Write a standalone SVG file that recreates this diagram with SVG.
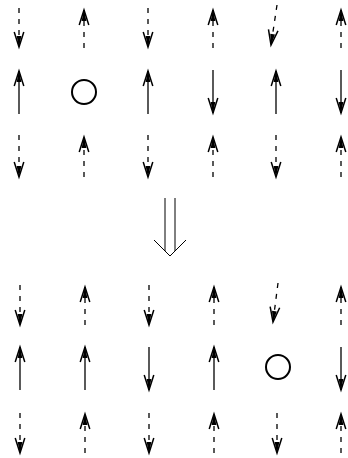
<svg xmlns="http://www.w3.org/2000/svg" width="348" height="458" viewBox="0 0 348 458">
<style>
.s{stroke:#000;stroke-width:1.3;fill:none}
.d{stroke:#000;stroke-width:1.3;fill:none;stroke-dasharray:5 6}
.c{stroke:#000;stroke-width:2;fill:none}
.t{stroke:#000;stroke-width:1;fill:none}
</style>
<defs>
<marker id="h" markerUnits="userSpaceOnUse" markerWidth="30" markerHeight="30" viewBox="-15 -15 30 30" refX="0" refY="0" orient="auto" overflow="visible">
<path d="M-15,-4.8 L0,0 L-15,4.8" stroke="#000" stroke-width="1.5" fill="none"/>
<path d="M-11,-2.4 L0,0 L-11,2.4 Z" fill="#000"/>
</marker>
</defs>
<rect width="348" height="458" fill="#fff"/>
<g id="top-grid">
<g id="top-row1">
<line class="d" x1="19" y1="8" x2="19" y2="47" marker-end="url(#h)"/>
<line class="d" x1="84" y1="48" x2="84" y2="10" marker-end="url(#h)"/>
<line class="d" x1="148" y1="8" x2="148" y2="47" marker-end="url(#h)"/>
<line class="d" x1="213" y1="48" x2="213" y2="10" marker-end="url(#h)"/>
<line class="d" x1="277" y1="5" x2="271" y2="45" marker-end="url(#h)"/>
<line class="d" x1="341" y1="48" x2="341" y2="10" marker-end="url(#h)"/>
</g>
<g id="top-row2">
<line class="s" x1="19" y1="114" x2="19" y2="71" marker-end="url(#h)"/>
<circle class="c" cx="84" cy="92" r="12"/>
<line class="s" x1="148" y1="114" x2="148" y2="71" marker-end="url(#h)"/>
<line class="s" x1="213" y1="70" x2="213" y2="113" marker-end="url(#h)"/>
<line class="s" x1="276" y1="114" x2="276" y2="71" marker-end="url(#h)"/>
<line class="s" x1="341" y1="70" x2="341" y2="113" marker-end="url(#h)"/>
</g>
<g id="top-row3">
<line class="d" x1="19" y1="135" x2="19" y2="177" marker-end="url(#h)"/>
<line class="d" x1="84" y1="177" x2="84" y2="137" marker-end="url(#h)"/>
<line class="d" x1="148" y1="135" x2="148" y2="177" marker-end="url(#h)"/>
<line class="d" x1="213" y1="177" x2="213" y2="137" marker-end="url(#h)"/>
<line class="d" x1="276" y1="135" x2="276" y2="177" marker-end="url(#h)"/>
<line class="d" x1="341" y1="177" x2="341" y2="137" marker-end="url(#h)"/>
</g>
</g>
<g id="transition">
<line class="t" x1="165" y1="198" x2="165" y2="251"/>
<line class="t" x1="175" y1="198" x2="175" y2="251"/>
<path class="t" d="M154,240 L170,256 L186,240"/>
</g>
<g id="bottom-grid">
<g id="bottom-row1">
<line class="d" x1="20" y1="285" x2="20" y2="325" marker-end="url(#h)"/>
<line class="d" x1="85" y1="325" x2="85" y2="287" marker-end="url(#h)"/>
<line class="d" x1="149" y1="285" x2="149" y2="325" marker-end="url(#h)"/>
<line class="d" x1="214" y1="325" x2="214" y2="287" marker-end="url(#h)"/>
<line class="d" x1="278" y1="283" x2="273" y2="322" marker-end="url(#h)"/>
<line class="d" x1="341" y1="325" x2="341" y2="287" marker-end="url(#h)"/>
</g>
<g id="bottom-row2">
<line class="s" x1="20" y1="390" x2="20" y2="347" marker-end="url(#h)"/>
<line class="s" x1="85" y1="390" x2="85" y2="347" marker-end="url(#h)"/>
<line class="s" x1="149" y1="347" x2="149" y2="390" marker-end="url(#h)"/>
<line class="s" x1="214" y1="390" x2="214" y2="347" marker-end="url(#h)"/>
<circle class="c" cx="278" cy="367" r="12"/>
<line class="s" x1="341" y1="347" x2="341" y2="390" marker-end="url(#h)"/>
</g>
<g id="bottom-row3">
<line class="d" x1="20" y1="413" x2="20" y2="453" marker-end="url(#h)"/>
<line class="d" x1="85" y1="453" x2="85" y2="414" marker-end="url(#h)"/>
<line class="d" x1="149" y1="413" x2="149" y2="453" marker-end="url(#h)"/>
<line class="d" x1="214" y1="453" x2="214" y2="414" marker-end="url(#h)"/>
<line class="d" x1="277" y1="413" x2="277" y2="453" marker-end="url(#h)"/>
<line class="d" x1="341" y1="453" x2="341" y2="414" marker-end="url(#h)"/>
</g>
</g>
</svg>
